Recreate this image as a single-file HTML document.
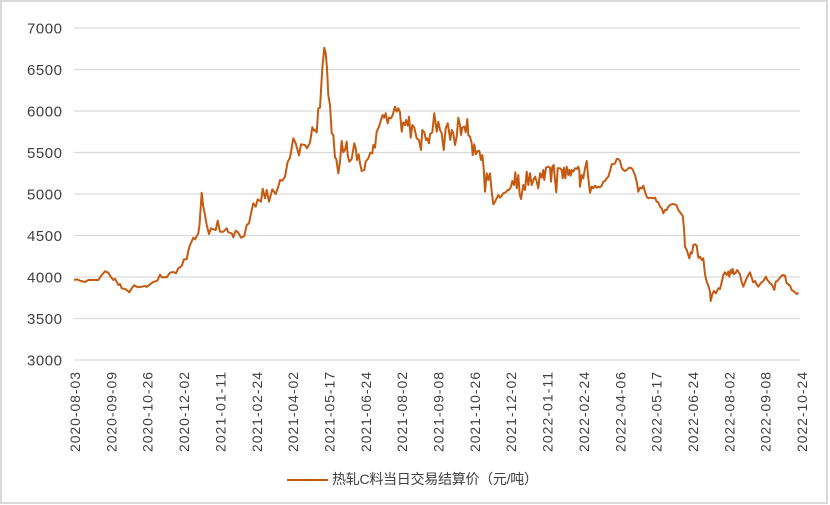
<!DOCTYPE html>
<html><head><meta charset="utf-8"><style>
html,body{margin:0;padding:0;background:#fff;}
svg{display:block;}
text{font-family:"Liberation Sans","Noto Sans CJK SC",sans-serif;fill:#404040;}
</style></head><body>
<svg width="830" height="505" viewBox="0 0 830 505" xmlns="http://www.w3.org/2000/svg">
<rect x="1" y="1" width="826" height="502" fill="#fff" stroke="#d9d9d9" stroke-width="2"/>
<g stroke="#d9d9d9" stroke-width="1.3">
<line x1="74" x2="800" y1="28" y2="28"/>
<line x1="74" x2="800" y1="69.5" y2="69.5"/>
<line x1="74" x2="800" y1="111" y2="111"/>
<line x1="74" x2="800" y1="152.5" y2="152.5"/>
<line x1="74" x2="800" y1="194" y2="194"/>
<line x1="74" x2="800" y1="235.5" y2="235.5"/>
<line x1="74" x2="800" y1="277" y2="277"/>
<line x1="74" x2="800" y1="318.5" y2="318.5"/>
<line x1="74" x2="800" y1="360" y2="360"/>
</g>
<g font-size="15" text-anchor="end">
<text x="62" y="33.5" textLength="35">7000</text>
<text x="62" y="75" textLength="35">6500</text>
<text x="62" y="116.5" textLength="35">6000</text>
<text x="62" y="158" textLength="35">5500</text>
<text x="62" y="199.5" textLength="35">5000</text>
<text x="62" y="241" textLength="35">4500</text>
<text x="62" y="282.5" textLength="35">4000</text>
<text x="62" y="324" textLength="35">3500</text>
<text x="62" y="365.5" textLength="35">3000</text>
</g>
<g font-size="14">
<text transform="translate(80,452) rotate(-90)" textLength="80">2020-08-03</text>
<text transform="translate(116.35,452) rotate(-90)" textLength="80">2020-09-09</text>
<text transform="translate(152.7,452) rotate(-90)" textLength="80">2020-10-26</text>
<text transform="translate(189.05,452) rotate(-90)" textLength="80">2020-12-02</text>
<text transform="translate(225.4,452) rotate(-90)" textLength="80">2021-01-11</text>
<text transform="translate(261.75,452) rotate(-90)" textLength="80">2021-02-24</text>
<text transform="translate(298.1,452) rotate(-90)" textLength="80">2021-04-02</text>
<text transform="translate(334.45,452) rotate(-90)" textLength="80">2021-05-17</text>
<text transform="translate(370.8,452) rotate(-90)" textLength="80">2021-06-24</text>
<text transform="translate(407.15,452) rotate(-90)" textLength="80">2021-08-02</text>
<text transform="translate(443.5,452) rotate(-90)" textLength="80">2021-09-08</text>
<text transform="translate(479.85,452) rotate(-90)" textLength="80">2021-10-26</text>
<text transform="translate(516.2,452) rotate(-90)" textLength="80">2021-12-02</text>
<text transform="translate(552.55,452) rotate(-90)" textLength="80">2022-01-11</text>
<text transform="translate(588.9,452) rotate(-90)" textLength="80">2022-02-24</text>
<text transform="translate(625.25,452) rotate(-90)" textLength="80">2022-04-06</text>
<text transform="translate(661.6,452) rotate(-90)" textLength="80">2022-05-17</text>
<text transform="translate(697.95,452) rotate(-90)" textLength="80">2022-06-24</text>
<text transform="translate(734.3,452) rotate(-90)" textLength="80">2022-08-02</text>
<text transform="translate(770.65,452) rotate(-90)" textLength="80">2022-09-08</text>
<text transform="translate(807,452) rotate(-90)" textLength="80">2022-10-24</text>
</g>
<polyline fill="none" stroke="#C55A11" stroke-width="2" stroke-linejoin="round" points="74,280 76.7,279.3 80,280.7 85,282 88.3,280 93.3,280 98.3,280 101.7,275 105,271.3 108.3,272.7 110.7,276.7 113.3,280 115,278.7 116.7,281.7 118.3,285 120,284 121.7,288.3 125,289 126.7,290 129.3,292.3 131.7,288.3 134,285.3 136.7,286.7 138.3,287.3 141.7,286.7 145,286 146.7,287 150,284.3 153.3,282 157.3,280.7 160,274.7 161.7,277.3 166.7,277.3 170,272.7 173.3,272 176,273.3 178.3,268.3 181.7,266 184,259.3 186.7,259.3 188.3,250.7 190,245 192,240.7 193.3,237.7 195,239.3 198.3,233.3 199.5,225 201.7,192.7 203.3,206.7 205,215 206.7,225 209,234 211,228.3 213.3,229.3 215.7,230 217.7,220.7 220,231.7 223.3,231.7 226.7,228.3 228.3,232.3 231.7,233.3 233.3,237.3 235.7,230.7 238.3,232.7 241,237.7 244.3,236 246.7,225 249,223.3 251,213.3 253.3,203.3 255.7,206.7 257.7,199.3 261,201.7 262.7,188.7 265,198.3 266.7,190 269,201.7 272.3,189.3 275.7,194 278.3,186.7 280,180 282.3,180.7 285,176.7 287.7,161.7 290,157.7 293.3,138.3 295.7,143.3 299,155.3 301,144.3 305,145 307,148.3 310,142.7 312.3,127.3 314.3,130.7 315,130 316.7,132.3 318.3,108.3 320,107.7 322.3,68.3 324.3,47.7 325.7,53.3 327,68.3 328.3,95 330,105 331.7,133.3 333.3,135 335,157.7 336.3,159 338.3,173.3 340,161.7 341.7,141 343.3,152.3 345,150 346.7,141.7 347.7,155 349.3,161.7 351.7,159 354.3,143.3 355.7,148.3 357,160 358.7,154.3 360,163.3 361.7,171 364.3,170 365.7,161.7 368.3,158.3 370.3,152.7 372.3,153.3 373.3,145 375,147.7 376.7,131.7 379,126.7 381,120 382.7,115 384.3,117.7 385.7,113.3 387.7,123.3 389,117.7 391,118.3 392.7,115 395,106.7 396.7,111.7 398.3,108.3 400,112.3 401.7,131.7 403.3,122.3 405,125 406,120 407.7,125.7 409,116.7 410.7,137.7 412.3,125 414.3,127.7 416.7,138.3 419,140 421,150 422.3,130 424.3,132.3 426,140 427.3,138.3 429,143.3 430,134.3 432.3,132.3 434.3,113.3 436.7,131.7 438.3,121.7 440,130 441.7,133.3 443.7,150 445.7,128.3 447.7,123.3 449,131.7 450.3,140 451.7,130 453.3,133.3 455,145 456.7,136.7 458.3,117.7 460,125 461,135 462.3,127.7 464.3,126.7 465.7,132.3 467.3,119 468.3,135 470,136.7 471.7,143.3 472.7,155 474.3,144.3 475.7,154.3 477.7,151 479.3,151 481,160 482.3,155 483.7,168.3 485,191.7 486.7,173.3 488.3,180 490,173.3 491.7,191.7 493.3,204.3 495,201.7 496.7,198.3 498.3,195 500,197.7 501.7,195.7 503.3,193.3 505.7,192.3 507.7,190 509,190 511,186.7 512.3,181 514,185 515.3,172.3 516.7,188.3 518.3,175 519.7,194.3 521,199 523.3,185 525,190 526.7,171.7 528.3,185 530,173.3 531.7,185 533.3,180 535,176.7 536.7,181.7 538.3,188.3 540,173.3 541.7,177.7 543.3,170 544.3,180 546,167.7 548.3,166.7 550,167.7 551,181.7 552.3,166.7 553.7,165 555,180 556.3,192.3 557.7,168.3 560,168.3 561.7,170 562.7,178.3 564,167.7 565.3,178.3 566.7,166.7 568.3,175 569.3,170 570.7,175.7 571.7,170 573.3,171.7 575,168.3 576.7,169 578.3,166.7 579.3,171 580,186.7 581.7,175 583.3,178.3 585,168.3 586.7,161 588.3,178.3 590,192.7 591.7,186.7 593.3,188.3 595,185.7 596.7,187.7 598.3,186.7 600,187.3 601.7,185.7 603.3,181.7 605,181 606.7,178.3 608.3,176.7 610,171 611.7,164.3 613.3,164.3 615,163.3 616.7,159 618.3,159 620,161 621.7,167.7 623.3,170 625,171 626.7,170 628.3,168.3 630,167.7 631.7,168.3 633.3,171 635,175 636.7,181.7 638.3,191.7 640,187.7 641.7,188.3 643.3,185.7 645,191.7 646.7,196.7 648.3,198.3 650,197.7 653.3,198.3 655,197.7 656.7,201.7 658.3,202.3 660,206.7 661.7,208.3 663.3,213.3 665,210 666.7,210 668.3,206.7 670,205 671.7,204.3 673.3,204 675,204.3 676.7,205.7 678.3,210 680,212.3 682.7,215.7 684,228.3 685,246.7 686.7,250 688.3,255 689.3,258.3 690.7,252.3 692,253.3 693.3,245 695,244.3 696.7,245.7 698.3,257.7 700,256.7 701.7,260 703.3,258.3 705,274.3 706.7,281.7 708.3,285.7 710,291.7 710.7,301 712.3,294.3 714,291 716,293.3 718.3,288.3 720,289 721.7,282.3 723.3,275 725,272.3 726.7,275 728.3,271.7 729.3,276.7 730.7,270 731.7,273.3 732.7,269 734,274.3 736,272.3 737.3,270 738.7,272.3 740,274.3 741.7,282.3 743.3,286.7 745,282.3 746.7,278.3 748.3,275 750,272.3 751.7,277.7 753.3,282.3 755,281 756.7,284.3 758.3,286.7 760,284.3 761.7,282.3 763.3,281 765,278.3 766,276.7 767.3,280 768.3,281 770,283.3 771.7,284.3 773.3,287.7 774.3,290 775.7,281.7 777.3,281 779,279 780.7,276.7 782.7,275 785,275.7 786.7,283.3 788.3,284.3 790,285.7 791.7,290 793.3,291 795,292.3 796.7,294 798.3,292.7"/>
<line x1="287" y1="480" x2="328" y2="480" stroke="#C55A11" stroke-width="2"/>
<text x="332" y="484" font-size="14" textLength="206">热轧C料当日交易结算价（元/吨）</text>
</svg>
</body></html>
